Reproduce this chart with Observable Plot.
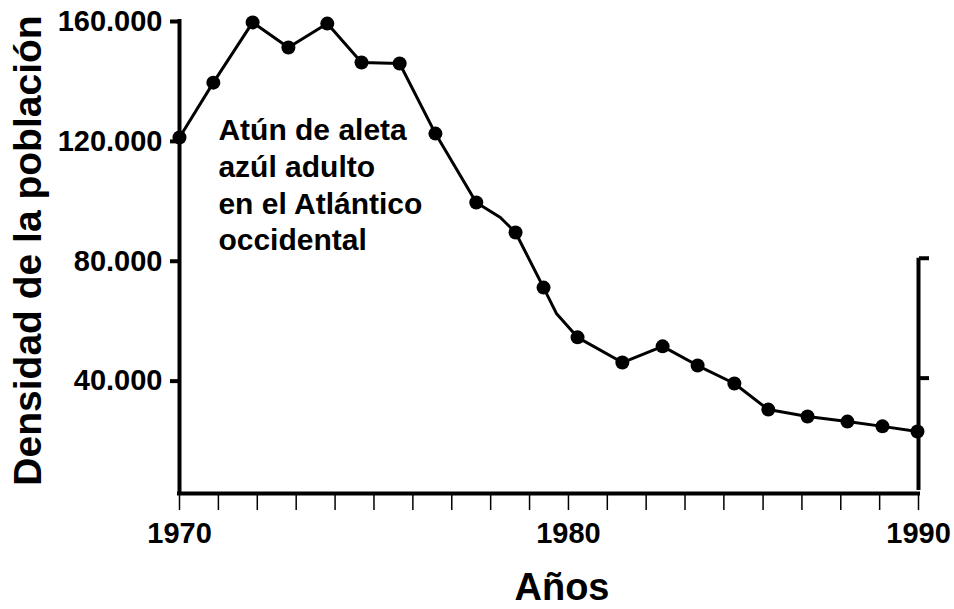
<!DOCTYPE html>
<html><head><meta charset="utf-8">
<script src="https://cdn.jsdelivr.net/npm/d3@7"></script>
<script src="https://cdn.jsdelivr.net/npm/@observablehq/plot@0.6"></script>
<style>body{margin:0;background:#fff} svg{display:block}</style>
</head><body><div id="chart"></div>
<script>
// Measured points (dots)
const years = [1970.0, 1970.87, 1971.88, 1972.8, 1973.8, 1974.68, 1975.66, 1976.58, 1977.63, 1978.64, 1979.36,
  1980.26, 1981.54, 1982.69, 1983.69, 1984.74, 1985.71, 1986.83, 1987.97, 1988.97, 1989.97];
const density = [121300, 139600, 159700, 151300, 159300, 146300, 146000, 122600, 99600, 89600, 71200,
  54600, 46200, 51600, 45200, 39200, 30500, 28200, 26500, 24900, 23200];
// Bends in the drawn line that carry no dot
const bendYears = [1978.25, 1979.69];
const bendDensity = [94600, 62600];

const xMajorTicks = [1970, 1980, 1990];
const xMajorLabels = ["1970", "1980", "1990"];
const xMinorTicks = [1970, 1971, 1972, 1973, 1974, 1975, 1976, 1977, 1978, 1979, 1980,
  1981.11, 1982.22, 1983.33, 1984.44, 1985.56, 1986.67, 1987.78, 1988.89, 1990];
// The original axis is drawn with 10 tick steps up to 1980 and 9 from 1980 to 1990
const axisBreaks = [1970, 1980, 1990];
const axisSteps = [0, 10, 19];
const yTicks = [40000, 80000, 120000, 160000];
const yTickLabels = ["40.000", "80.000", "120.000", "160.000"];
const bracketTicks = [40000, 80000];
const yBase = 2500;
const annotation = "Atún de aleta\nazúl adulto\nen el Atlántico\noccidental";
const xTitle = "Años";
const yTitle = "Densidad de la población";

const dots = years.map((year, i) => ({year, value: density[i]}));
const path = dots.concat(bendYears.map((year, i) => ({year, value: bendDensity[i]})))
  .sort((a, b) => a.year - b.year);

const piece = d3.scaleLinear().domain(axisBreaks).range(axisSteps);

const font = "'Liberation Sans', Arial, Helvetica, sans-serif";
const chart = Plot.plot({
  width: 954, height: 609,
  marginLeft: 179, marginRight: 36, marginTop: 21, marginBottom: 116,
  style: {fontFamily: font, background: "#fff", color: "#000"},
  x: {transform: d => piece(d)},
  y: {domain: [yBase, 160000]},
  marks: [
    Plot.axisX(xMinorTicks, {anchor: "bottom", tickSize: 17, strokeWidth: 1.5, tickFormat: () => "", label: null}),
    Plot.axisX(xMajorTicks, {anchor: "bottom", tickSize: 0, tickPadding: 29,
      tickFormat: (d, i) => xMajorLabels[i], fontSize: 29, fontWeight: "bold", label: null}),
    Plot.axisY(yTicks, {anchor: "left", tickSize: 9, tickPadding: 8, strokeWidth: 4,
      tickFormat: d => yTickLabels[yTicks.indexOf(d)], fontSize: 29, fontWeight: "bold", label: null}),
    Plot.axisY(bracketTicks, {anchor: "right", tickSize: 10, strokeWidth: 4, tickFormat: () => "", label: null, dy: -3}),
    Plot.ruleX([1990], {y1: yBase, y2: d3.max(bracketTicks), strokeWidth: 4, dy: -3}),
    Plot.ruleY([yBase], {x1: 1970, x2: 1990, strokeWidth: 4, strokeLinecap: "square"}),
    Plot.ruleX([1970], {y1: yBase, y2: 160000, strokeWidth: 4, strokeLinecap: "square"}),
    Plot.line(path, {x: "year", y: "value", stroke: "#000", strokeWidth: 3}),
    Plot.dot(dots, {x: "year", y: "value", r: 7, fill: "#000"}),
    Plot.text([annotation], {x: 1971, y: 129000, text: d => d, textAnchor: "start", lineAnchor: "top",
      lineHeight: 1.22, fontSize: 30, fontWeight: "bold", fill: "#000"}),
    Plot.text([yTitle], {frameAnchor: "left", rotate: -90, dx: -151, dy: -7, text: d => d,
      fontSize: 39, fontWeight: "bold", fill: "#000", textAnchor: "middle", lineAnchor: "middle"}),
    Plot.text([xTitle], {frameAnchor: "bottom", dx: 13, dy: 94, text: d => d,
      fontSize: 38, fontWeight: "bold", fill: "#000", textAnchor: "middle", lineAnchor: "middle"})
  ]
});
document.getElementById("chart").appendChild(chart);
</script>
</body></html>
